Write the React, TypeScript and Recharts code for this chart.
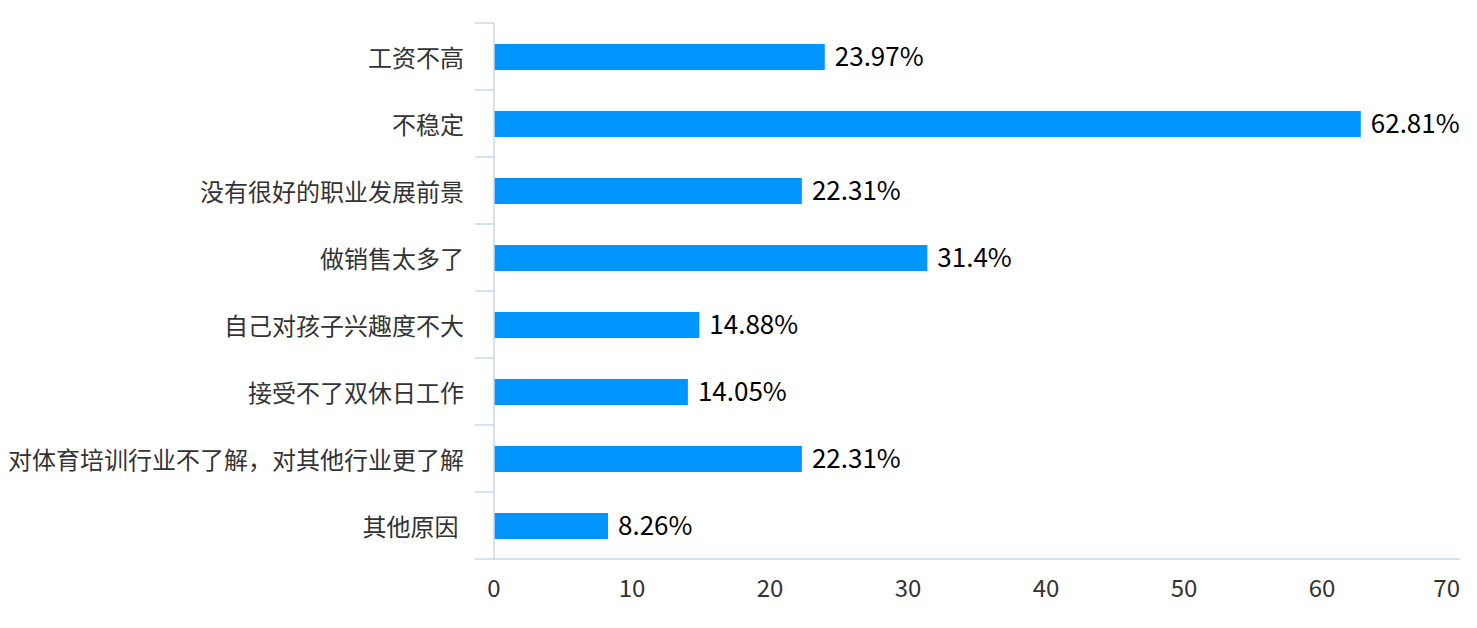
import React from "react";
import { BarChart, Bar, XAxis, YAxis, LabelList } from "recharts";

const categories = [
  "工资不高",
  "不稳定",
  "没有很好的职业发展前景",
  "做销售太多了",
  "自己对孩子兴趣度不大",
  "接受不了双休日工作",
  "对体育培训行业不了解，对其他行业更了解",
  "其他原因\u00a0",
];
const values = [23.97, 62.81, 22.31, 31.4, 14.88, 14.05, 22.31, 8.26];
const xTicks = [0, 10, 20, 30, 40, 50, 60, 70];

const data = categories.map((name, i) => ({ name, value: values[i] }));

const FONT = "'Noto Sans CJK SC', 'Noto Sans', sans-serif";
const AXIS_COLOR = "#ccd6eb";

const YTick = (props: any) => {
  const { x, y, payload, index, visibleTicksCount } = props;
  const half = payload && payload.offset ? payload.offset : 33.5;
  const isLast = index === visibleTicksCount - 1;
  return (
    <g>
      <text
        x={x}
        y={y}
        textAnchor="end"
        dominantBaseline="central"
        fill="#333333"
        fontSize={24}
        fontFamily={FONT}
      >
        {payload.value}
      </text>
      <line x1={x + 11} x2={x + 30} y1={y - half} y2={y - half} stroke={AXIS_COLOR} strokeWidth={1.5} />
      {isLast && (
        <line x1={x + 11} x2={x + 30} y1={y + half} y2={y + half} stroke={AXIS_COLOR} strokeWidth={1.5} />
      )}
    </g>
  );
};

const XTick = (props: any) => {
  const { x, y, payload, index, visibleTicksCount } = props;
  const isLast = index === visibleTicksCount - 1;
  return (
    <text
      x={x}
      y={y + 27}
      textAnchor={isLast ? "end" : "middle"}
      dominantBaseline="central"
      fill="#333333"
      fontSize={24}
      fontFamily={FONT}
    >
      {payload.value}
    </text>
  );
};

export default function App() {
  return (
    <div style={{ width: 1469, height: 620 }}>
      <BarChart
        width={1469}
        height={620}
        data={data}
        layout="vertical"
        margin={{ top: 15, right: 17, bottom: 9, left: 0 }}
        barCategoryGap={0}
      >
        <XAxis
          type="number"
          domain={[0, 70]}
          ticks={xTicks}
          interval={0}
          tickLine={false}
          tickSize={0}
          tickMargin={0}
          axisLine={{ stroke: AXIS_COLOR, strokeWidth: 1.5 }}
          tick={<XTick />}
          height={60}
        />
        <YAxis
          type="category"
          dataKey="name"
          width={486}
          tickLine={false}
          tickSize={6}
          tickMargin={24}
          interval={0}
          axisLine={{ stroke: AXIS_COLOR, strokeWidth: 1.5 }}
          tick={<YTick />}
        />
        <Bar dataKey="value" fill="#0095ff" barSize={26} isAnimationActive={false}>
          <LabelList
            dataKey="value"
            position="right"
            offset={10}
            formatter={(v: any) => `${v}%`}
            fill="#000000"
            fontSize={26}
            fontFamily={FONT}
          />
        </Bar>
      </BarChart>
    </div>
  );
}
